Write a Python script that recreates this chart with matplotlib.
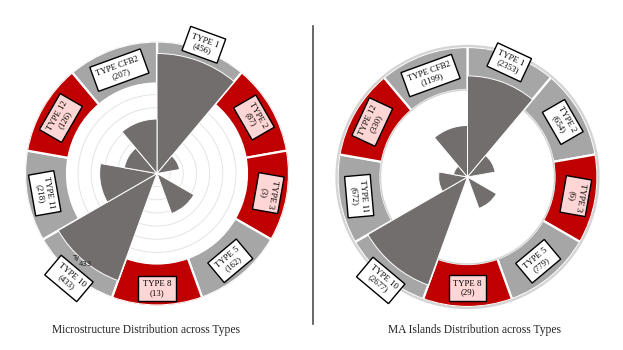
import matplotlib.pyplot as plt
import numpy as np

plt.rcParams['font.family'] = ['Liberation Serif', 'DejaVu Serif']

types = ["TYPE 1", "TYPE 2", "TYPE 3", "TYPE 5", "TYPE 8",
         "TYPE 10", "TYPE 11", "TYPE 12", "TYPE CFB2"]
micro_counts = [456, 87, 3, 162, 13, 433, 218, 126, 207]
ma_counts = [2353, 654, 6, 779, 29, 2677, 672, 330, 1199]

# ring colour per type (r = red, g = grey)
micro_ring = ["g", "r", "r", "g", "r", "g", "g", "r", "g"]
ma_ring = ["g", "g", "r", "g", "r", "g", "g", "r", "g"]

titles = ["Microstructure Distribution across Types",
          "MA Islands Distribution across Types"]

W, H = 623, 350
RED = "#c00000"
GREY = "#a6a6a6"
WEDGE = "#736e6e"
PINK = "#ffd6d6"


def draw_rose(cx, cy, r_out, r_in, px_per_unit, counts, ring, label_r, rots, grid=None, outline=False):
    rmax = r_out / px_per_unit
    ax = fig.add_axes([(cx - r_out) / W, (H - cy - r_out) / H, 2 * r_out / W, 2 * r_out / H],
                      projection="polar")
    ax.set_theta_zero_location("N")
    ax.set_theta_direction(-1)
    ax.set_ylim(0, rmax)
    ax.set_axis_off()

    n = len(counts)
    theta = np.deg2rad(np.arange(n) * 360 / n + 180 / n)
    width = np.deg2rad(360 / n)
    cols = [RED if c == "r" else GREY for c in ring]

    ring_bottom = r_in / px_per_unit
    ax.bar(theta, rmax - ring_bottom, width=width, bottom=ring_bottom,
           color=cols, edgecolor="white", linewidth=1.6, zorder=1)

    full = np.linspace(0, 2 * np.pi, 361)
    if grid is not None:
        for g in grid:
            ax.plot(full, np.full_like(full, g), color="#e4e4e4", lw=0.7, zorder=1.5)
    if outline:
        ax.plot(full, np.full_like(full, rmax * 1.008), color="#d4d4d4", lw=1.6, zorder=1.2,
                clip_on=False)
        ax.plot(full, np.full_like(full, ring_bottom), color="#d4d4d4", lw=1.0, zorder=1.2)

    ax.bar(theta, counts, width=width, bottom=0, color=WEDGE,
           edgecolor="white", linewidth=0.7, zorder=2)

    for t, name, v, c, lr, rot in zip(theta, types, counts, ring, label_r, rots):
        ax.text(t, lr / px_per_unit, f"{name}\n({v})", rotation=rot, rotation_mode="anchor",
                ha="center", va="center", multialignment="center", fontsize=6.3,
                linespacing=1.15, zorder=5, clip_on=False,
                bbox=dict(boxstyle="square,pad=0.5", fc=PINK if c == "r" else "white",
                          ec="black", lw=1.0))
    return ax


fig = plt.figure(figsize=(W / 100, H / 100), dpi=100)

draw_rose(157, 173.5, 132, 90, 120 / 456, micro_counts, micro_ring,
          [137, 112, 113, 114, 115, 137, 114, 111, 110],
          [-20, -60, -100, 40, 0, -40, -80, 60, 20],
          grid=[50, 100, 150, 200, 250, 300])

draw_rose(467.5, 177, 130, 87, 115 / 2677, ma_counts, ma_ring,
          [122, 110, 110, 110, 111, 135, 110, 110, 108],
          [-25, -60, -100, 40, 0, -40, -85, 65, 20],
          outline=True)

# stray data-label fragment near TYPE 10 on the left chart
fig.text(72 / W, 1 - 260 / H, "Ty", fontsize=5, color="#222222", family="DejaVu Sans")
fig.text(79 / W, 1 - 266.5 / H, "433", fontsize=5, color="#222222", family="DejaVu Sans")

fig.add_artist(plt.Line2D([313 / W, 313 / W], [1 - 26 / H, 1 - 324 / H],
                          color="#4d4d4d", lw=1.2))

fig.text(146 / W, 1 - 330 / H, titles[0], ha="center", va="center", fontsize=8.3, color="#222222")
fig.text(475 / W, 1 - 330 / H, titles[1], ha="center", va="center", fontsize=8.3, color="#222222")

fig.savefig("out.png", dpi=100)
